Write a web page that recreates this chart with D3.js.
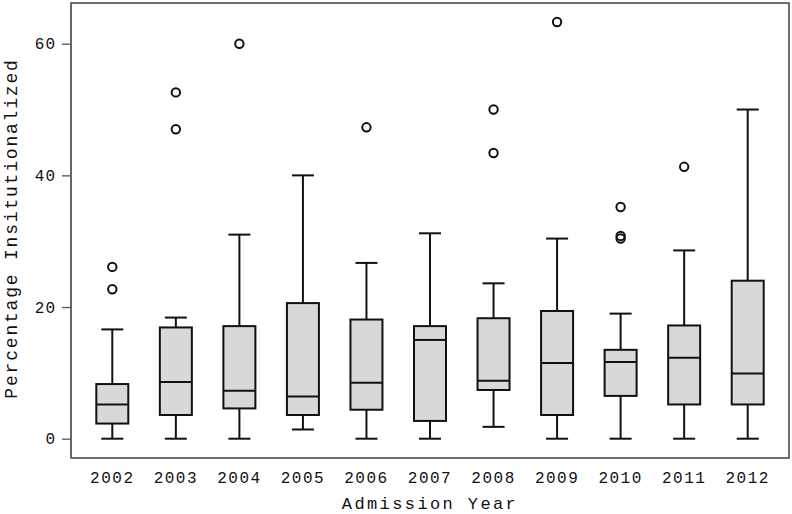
<!DOCTYPE html>
<html lang="en">
<head>
<meta charset="utf-8">
<title>Percentage institutionalized by admission year</title>
<style>
 body { margin: 0; background: #fff; }
 text { font-family: "Liberation Mono", "DejaVu Sans Mono", monospace; fill: #111; }
</style>
<script src="https://d3js.org/d3.v7.min.js"></script>
</head>
<body>
<div id="chart"></div>
<script>
 // Data
 const years = ['2002','2003','2004','2005','2006','2007','2008','2009','2010','2011','2012'];
 const whiskerLow  = [0, 0, 0, 1.4, 0, 0, 1.8, 0, 0, 0, 0];
 const q1          = [2.3, 3.6, 4.6, 3.6, 4.4, 2.7, 7.4, 3.6, 6.5, 5.2, 5.2];
 const median      = [5.2, 8.6, 7.3, 6.4, 8.5, 15.0, 8.8, 11.5, 11.65, 12.3, 9.9];
 const q3          = [8.3, 16.9, 17.1, 20.6, 18.1, 17.1, 18.3, 19.4, 13.5, 17.2, 24.0];
 const whiskerHigh = [16.6, 18.4, 31.0, 40.0, 26.7, 31.2, 23.6, 30.4, 19.0, 28.6, 50.0];
 const outliers    = [[26.1, 22.7], [52.6, 47.0], [60.0], [], [47.3], [], [50.0, 43.4], [63.3], [35.2, 30.8, 30.4], [41.3], []];
 const yTicks = [0, 20, 40, 60];

 const W = 792, H = 514;
 const frame = {left: 71, right: 789, top: 3, bottom: 458};

 const svg = d3.select('#chart').append('svg')
     .attr('width', W).attr('height', H);

 const x = d3.scalePoint().domain(years).range([frame.left, frame.right]).padding(0.65);
 const y = d3.scaleLinear().domain([0, 60]).range([438.7, 43.7]);

 const boxW = 32, capW = 22;

 // frame
 svg.append('rect')
    .attr('x', frame.left).attr('y', frame.top)
    .attr('width', frame.right - frame.left).attr('height', frame.bottom - frame.top)
    .attr('fill', 'none').attr('stroke', '#222').attr('stroke-width', 1.3);

 // left axis
 const yAxis = svg.append('g')
    .attr('transform', 'translate(' + frame.left + ',0)')
    .call(d3.axisLeft(y).tickValues(yTicks).tickSize(9).tickPadding(6));
 yAxis.select('.domain').remove();
 yAxis.append('line')
    .attr('x1', 0).attr('x2', 0).attr('y1', frame.top).attr('y2', frame.bottom)
    .attr('stroke', '#666').attr('stroke-width', 2);
 yAxis.selectAll('.tick line').attr('stroke', '#555').attr('stroke-width', 1.3);
 yAxis.selectAll('.tick text')
    .style('font-size', '16px').style('letter-spacing', '1px')
    .attr('fill', '#111');

 // x labels
 svg.append('g').selectAll('text')
    .data(years).enter().append('text')
    .attr('x', d => x(d))
    .attr('y', 483)
    .attr('text-anchor', 'middle')
    .style('font-size', '16px').style('letter-spacing', '1.5px')
    .text(d => d);

 // axis titles
 svg.append('text')
    .attr('x', 430).attr('y', 509)
    .attr('text-anchor', 'middle')
    .style('font-size', '17px').style('letter-spacing', '2.4px')
    .text('Admission Year');

 svg.append('text')
    .attr('transform', 'translate(17,' + ((frame.top + frame.bottom) / 2 - 2) + ')rotate(-90)')
    .attr('text-anchor', 'middle')
    .style('font-size', '18px').style('letter-spacing', '1.8px')
    .text('Percentage Insitutionalized');

 // boxes
 const g = svg.append('g').selectAll('g')
    .data(years).enter().append('g');

 const line = {stroke: '#111', w: 2};

 g.append('line') // lower whisker
    .attr('x1', d => x(d)).attr('x2', d => x(d))
    .attr('y1', (d, i) => y(whiskerLow[i])).attr('y2', (d, i) => y(q1[i]))
    .attr('stroke', line.stroke).attr('stroke-width', line.w);
 g.append('line') // upper whisker
    .attr('x1', d => x(d)).attr('x2', d => x(d))
    .attr('y1', (d, i) => y(whiskerHigh[i])).attr('y2', (d, i) => y(q3[i]))
    .attr('stroke', line.stroke).attr('stroke-width', line.w);
 g.append('line') // lower cap
    .attr('x1', d => x(d) - capW / 2).attr('x2', d => x(d) + capW / 2)
    .attr('y1', (d, i) => y(whiskerLow[i])).attr('y2', (d, i) => y(whiskerLow[i]))
    .attr('stroke', line.stroke).attr('stroke-width', line.w);
 g.append('line') // upper cap
    .attr('x1', d => x(d) - capW / 2).attr('x2', d => x(d) + capW / 2)
    .attr('y1', (d, i) => y(whiskerHigh[i])).attr('y2', (d, i) => y(whiskerHigh[i]))
    .attr('stroke', line.stroke).attr('stroke-width', line.w);
 g.append('rect')
    .attr('x', d => x(d) - boxW / 2)
    .attr('y', (d, i) => y(q3[i]))
    .attr('width', boxW)
    .attr('height', (d, i) => y(q1[i]) - y(q3[i]))
    .attr('fill', '#d8d8d8').attr('stroke', line.stroke).attr('stroke-width', line.w);
 g.append('line') // median
    .attr('x1', d => x(d) - boxW / 2).attr('x2', d => x(d) + boxW / 2)
    .attr('y1', (d, i) => y(median[i])).attr('y2', (d, i) => y(median[i]))
    .attr('stroke', line.stroke).attr('stroke-width', line.w);

 g.selectAll('circle')
    .data((d, i) => outliers[i].map(v => ({year: d, v: v})))
    .enter().append('circle')
    .attr('cx', d => x(d.year))
    .attr('cy', d => y(d.v))
    .attr('r', 4.2)
    .attr('fill', 'none').attr('stroke', '#111').attr('stroke-width', 2);
</script>
</body>
</html>
